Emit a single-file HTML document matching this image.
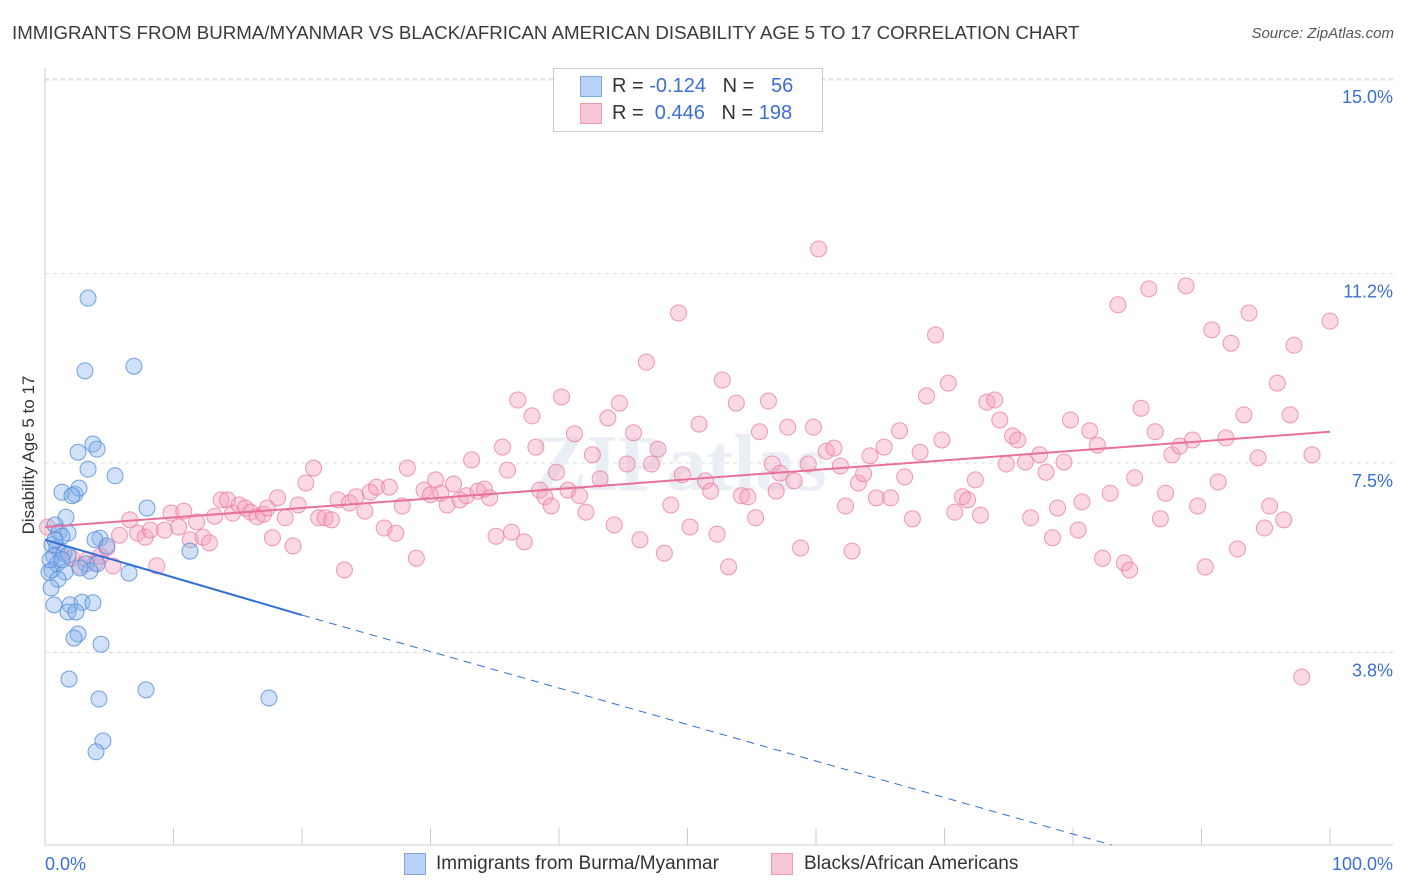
<!DOCTYPE html>
<html><head><meta charset="utf-8">
<style>
body{margin:0;background:#fff;font-family:"Liberation Sans",sans-serif;}
#wrap{position:relative;width:1406px;height:892px;overflow:hidden;}
.t{position:absolute;white-space:nowrap;}
</style></head>
<body>
<div id="wrap">
<div class="t" style="left:12px;top:22px;font-size:18.7px;color:#3a3a3a;">IMMIGRANTS FROM BURMA/MYANMAR VS BLACK/AFRICAN AMERICAN DISABILITY AGE 5 TO 17 CORRELATION CHART</div>
<div class="t" style="right:12px;top:25px;font-size:15px;color:#555;font-style:italic;">Source: ZipAtlas.com</div>
<svg id="plot" width="1406" height="892" style="position:absolute;left:0;top:0"></svg>
</div>
<script>
const yTicks=[3.8,7.5,11.2,15.0];
const yTickLabels=["3.8%","7.5%","11.2%","15.0%"];
const xLabels=["0.0%","100.0%"];
const blueX=[3.35,3.11,6.92,2.57,3.73,4.05,3.35,5.45,1.32,2.33,2.65,2.10,7.94,1.63,0.78,1.09,1.79,1.32,0.54,0.93,1.48,4.28,3.89,4.82,11.28,0.70,1.79,0.93,3.19,4.05,0.54,1.56,3.50,6.54,0.31,1.01,0.47,0.70,1.95,2.88,3.73,1.79,2.41,2.57,2.26,4.36,1.87,7.86,4.20,17.43,4.51,3.97,0.39,1.32,2.72,0.78];
const blueY=[10.72,9.30,9.39,7.71,7.87,7.77,7.38,7.25,6.93,6.89,7.01,6.86,6.62,6.44,6.29,6.15,6.13,6.07,5.90,5.84,5.74,6.03,6.00,5.88,5.78,5.68,5.70,5.53,5.53,5.53,5.41,5.37,5.39,5.35,5.37,5.23,5.06,4.73,4.73,4.78,4.77,4.59,4.59,4.16,4.08,3.96,3.28,3.07,2.89,2.91,2.07,1.86,5.61,5.61,5.45,6.00];
const pinkX=[0.2,1.2,2.1,2.7,3.3,3.9,4.3,4.8,5.3,5.8,6.6,7.2,7.8,8.2,8.7,9.3,9.8,10.4,10.8,11.3,11.8,12.3,12.8,13.2,13.7,14.2,14.6,15.1,15.6,16.0,16.5,17.0,17.3,17.7,18.1,18.7,19.3,19.7,20.3,20.9,21.3,21.8,22.3,22.8,23.3,23.7,24.2,24.9,25.3,25.8,26.4,26.8,27.3,27.8,28.2,28.9,29.5,30.0,30.4,30.8,31.3,31.8,32.3,32.8,33.2,33.7,34.2,34.6,35.1,35.6,36.0,36.3,36.8,37.3,37.9,38.2,38.5,38.9,39.4,39.8,40.2,40.7,41.2,41.6,42.1,42.6,43.2,43.8,44.3,44.7,45.3,45.8,46.3,46.8,47.2,47.7,48.2,48.7,49.3,49.6,50.2,50.9,51.4,51.8,52.3,52.7,53.2,53.8,54.2,54.7,55.3,55.6,56.3,56.6,56.9,57.2,57.8,58.3,58.8,59.4,59.8,60.2,60.8,61.4,61.9,62.3,62.8,63.3,63.7,64.2,64.7,65.3,65.8,66.5,66.9,67.5,68.1,68.6,69.3,69.8,70.3,70.8,71.4,71.8,72.4,72.8,73.3,73.9,74.3,74.8,75.3,75.7,76.3,76.7,77.4,77.9,78.4,78.8,79.3,79.8,80.4,80.7,81.3,81.9,82.3,82.9,83.5,84.0,84.4,84.8,85.3,85.9,86.4,86.8,87.2,87.7,88.3,88.8,89.3,89.7,90.3,90.8,91.3,91.9,92.3,92.8,93.3,93.7,94.4,94.9,95.3,95.9,96.4,96.9,97.2,97.8,98.6,100];
const pinkY=[6.25,5.76,5.64,5.49,5.61,5.55,5.68,5.84,5.49,6.09,6.39,6.13,6.05,6.19,5.49,6.19,6.52,6.25,6.56,6.00,6.35,6.05,5.94,6.46,6.78,6.78,6.52,6.68,6.62,6.54,6.45,6.50,6.62,6.04,6.82,6.43,5.88,6.68,7.11,7.40,6.43,6.43,6.39,6.78,5.41,6.72,6.84,6.56,6.93,7.03,6.23,7.03,6.13,6.66,7.40,5.64,6.97,6.88,7.17,6.91,6.68,7.09,6.78,6.86,7.56,6.95,6.99,6.82,6.07,7.81,7.36,6.15,8.73,5.96,8.42,7.81,6.97,6.84,6.66,7.32,8.79,6.97,8.07,6.86,6.54,7.66,7.19,8.38,6.29,8.67,7.48,8.09,6.00,9.47,7.48,7.77,5.74,6.68,10.43,7.27,6.25,8.26,7.15,6.95,6.11,9.12,5.47,8.67,6.86,6.84,6.43,8.11,8.71,7.48,6.95,7.30,8.20,7.15,5.84,7.48,8.20,11.68,7.73,7.79,7.44,6.66,5.78,7.11,7.29,7.64,6.82,7.81,6.82,8.13,7.23,6.41,7.71,8.81,10.00,7.95,9.06,6.54,6.84,6.78,7.17,6.48,8.69,8.73,8.34,7.48,8.03,7.95,7.52,6.43,7.66,7.32,6.04,6.62,7.52,8.34,6.19,6.74,8.13,7.85,5.64,6.91,10.59,5.55,5.41,7.21,8.57,10.90,8.11,6.41,6.91,7.66,7.83,10.96,7.95,6.66,5.47,10.10,7.13,7.99,9.84,5.82,8.44,10.43,7.60,6.23,6.66,9.06,6.39,8.44,9.80,3.32,7.66,10.27];
const blueFit=[6.0,-0.0735];
const pinkFit=[6.25,0.0186];
const blueDashEnd=83.0;

const svg=document.getElementById('plot');
const NS='http://www.w3.org/2000/svg';
const X0=45,X1=1330,YB=847,YPX=51.2;
const sx=v=>X0+(X1-X0)*v/100;
const sy=v=>YB-v*YPX;
function mk(tag,attrs,parent){const e=document.createElementNS(NS,tag);for(const k in attrs)e.setAttribute(k,attrs[k]);(parent||svg).appendChild(e);return e;}

mk('line',{x1:45,x2:1393,y1:80,y2:80,stroke:'#ddd','stroke-dasharray':'4,4'});
yTicks.forEach((v,i)=>{
  const g=mk('line',{x1:45,x2:1393,y1:sy(v),y2:sy(v),stroke:'#ddd','stroke-dasharray':'4,4'});
  
  
  const t=mk('text',{x:1393,y:sy(v)+24,'text-anchor':'end','font-size':18,fill:'#3b6fd4','font-family':'Liberation Sans, sans-serif'});
  t.textContent=yTickLabels[i];
  
  
});
const ya=mk('line',{x1:45,x2:45,y1:68,y2:845,stroke:'#ccc'});


const xa=mk('line',{x1:45,x2:1393,y1:845,y2:845,stroke:'#ccc'});


for(let k=0;k<=10;k++){
  const tk=mk('line',{x1:sx(k*10),x2:sx(k*10),y1:828,y2:845,stroke:'#ccc'});
  
  
}
[[0,'start',45],[100,'end',1393]].forEach((d,i)=>{
  const t=mk('text',{x:d[2],y:870,'text-anchor':d[1],'font-size':18,fill:'#3b6fd4','font-family':'Liberation Sans, sans-serif'});
  t.textContent=xLabels[i];
  
  
});
const yt=mk('text',{x:0,y:0,transform:'translate(34,455) rotate(-90)','text-anchor':'middle','font-size':17,fill:'#333','font-family':'Liberation Sans, sans-serif'});
yt.textContent='Disability Age 5 to 17';


const wm=mk('text',{x:680,y:490,'text-anchor':'middle','font-size':80,fill:'#eaeef5','font-family':'Liberation Serif, serif','font-weight':'bold'});
wm.textContent='ZIPatlas';



pinkX.forEach((x,i)=>{
  const c=mk('circle',{cx:sx(x),cy:sy(pinkY[i]),r:8,fill:'rgba(245,160,188,0.4)',stroke:'rgba(236,120,158,0.75)','stroke-width':1});
  
  
});
blueX.forEach((x,i)=>{
  const c=mk('circle',{cx:sx(x),cy:sy(blueY[i]),r:8,fill:'rgba(140,180,235,0.4)',stroke:'rgba(80,140,220,0.8)','stroke-width':1});
  
  
});
const pl=mk('line',{x1:sx(0),y1:sy(pinkFit[0]),x2:sx(100),y2:sy(pinkFit[0]+100*pinkFit[1]),stroke:'#e8719a','stroke-width':2});


const bl=mk('line',{x1:sx(0),y1:sy(blueFit[0]),x2:sx(20),y2:sy(blueFit[0]+20*blueFit[1]),stroke:'#2f6fd6','stroke-width':2});


const yEnd=blueFit[0]+20*blueFit[1]+(blueDashEnd-20)*(0-(blueFit[0]+20*blueFit[1]))/(blueDashEnd-20);
const bd=mk('line',{x1:sx(20),y1:sy(blueFit[0]+20*blueFit[1]),x2:sx(blueDashEnd),y2:sy(yEnd)-2,stroke:'#2f6fd6','stroke-width':1,'stroke-dasharray':'8,6'});


</script>
<div class="t" style="left:553px;top:68px;width:268px;height:62px;border:1px solid #ccc;background:#fff;"></div>
<div class="t" style="left:580px;top:76px;width:20px;height:19px;background:#b7d2f4;border:1px solid #7fa9e3;"></div>
<div class="t" style="left:612px;top:75px;font-size:20px;color:#333;">R = <span style="color:#3b6fd4">-0.124</span>&nbsp;&nbsp;&nbsp;N = &nbsp;&nbsp;<span style="color:#3b6fd4">56</span></div>
<div class="t" style="left:580px;top:103px;width:20px;height:19px;background:#f9c8d7;border:1px solid #ee9ab4;"></div>
<div class="t" style="left:612px;top:102px;font-size:20px;color:#333;">R = &nbsp;<span style="color:#3b6fd4">0.446</span>&nbsp;&nbsp;&nbsp;N = <span style="color:#3b6fd4">198</span></div>
<div class="t" style="left:404px;top:853px;width:20px;height:20px;background:#b7d2f4;border:1px solid #7fa9e3;"></div>
<div class="t" style="left:436px;top:853px;font-size:19px;color:#333;">Immigrants from Burma/Myanmar</div>
<div class="t" style="left:771px;top:853px;width:20px;height:20px;background:#f9c8d7;border:1px solid #ee9ab4;"></div>
<div class="t" style="left:804px;top:853px;font-size:19px;color:#333;">Blacks/African Americans</div>
</body></html>
